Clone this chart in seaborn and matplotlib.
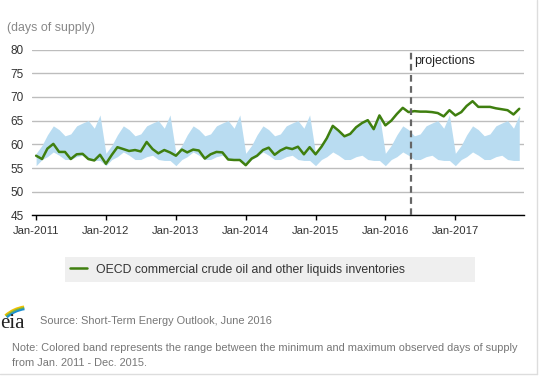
import numpy as np
import pandas as pd
import seaborn as sns
import matplotlib.pyplot as plt
from matplotlib.patches import Rectangle, Arc
from matplotlib.lines import Line2D
import matplotlib.dates as mdates

# monthly days of supply, Jan-2011 .. Dec-2017 (from Jun-2016 on: projections)
zaliha_2011 = [57.6, 56.9, 59.1, 60.1, 58.4, 58.4, 56.9, 57.9, 58.0, 56.9, 56.6, 57.8]
zaliha_2012 = [55.9, 57.8, 59.4, 59.0, 58.6, 58.8, 58.5, 60.5, 59.0, 58.1, 58.8, 58.3]
zaliha_2013 = [57.6, 58.9, 58.3, 58.9, 58.7, 57.0, 57.9, 58.4, 58.3, 56.8, 56.7, 56.7]
zaliha_2014 = [55.6, 57.0, 57.6, 58.8, 59.3, 57.8, 58.7, 59.3, 59.0, 59.5, 57.9, 59.4]
zaliha_2015 = [57.9, 59.5, 61.3, 63.9, 62.9, 61.7, 62.2, 63.6, 64.5, 65.1, 63.2, 66.1]
zaliha_2016 = [64.0, 65.0, 66.4, 67.7, 66.8, 67.0, 66.9, 66.9, 66.8, 66.6, 65.9, 67.2]
zaliha_2017 = [66.1, 66.8, 68.1, 69.1, 67.9, 67.9, 67.9, 67.6, 67.4, 67.2, 66.3, 67.5]

# range Jan 2011 - Dec 2015, per calendar month
raspon_max = [58.1, 59.8, 62.0, 63.9, 63.1, 61.8, 62.2, 63.9, 64.5, 65.0, 63.4, 66.2]
raspon_min = [55.5, 56.8, 57.4, 58.4, 57.7, 56.8, 56.8, 57.4, 57.7, 56.8, 56.6, 56.6]

godine = [2011, 2012, 2013, 2014, 2015, 2016, 2017]
oznaka_serije = 'OECD commercial crude oil and other liquids inventories'

datumi = pd.date_range('2011-01-01', '2017-12-01', freq='MS')
df = pd.DataFrame({
    'datum': datumi,
    'zaliha': zaliha_2011 + zaliha_2012 + zaliha_2013 + zaliha_2014
              + zaliha_2015 + zaliha_2016 + zaliha_2017,
    'band_max': raspon_max * len(godine),
    'band_min': raspon_min * len(godine),
})

sns.set_style('white')
plt.rcParams['font.family'] = ['Liberation Sans', 'DejaVu Sans']

fig = plt.figure(figsize=(5.47, 3.78), dpi=100)
ax = fig.add_axes([0.058, 0.430, 0.900, 0.439])

ax.fill_between(df['datum'], df['band_min'], df['band_max'],
                color='#b9dcf1', linewidth=0, zorder=1)

sns.lineplot(data=df, x='datum', y='zaliha', color='#3f7f0f',
             linewidth=1.8, label=oznaka_serije, ax=ax, zorder=3)

# projections divider
ax.axvline(pd.Timestamp('2016-05-16'), color='#666666', linestyle=(0, (3, 2)),
           linewidth=1.6, zorder=4)
ax.text(pd.Timestamp('2016-06-01'), 77.5, 'projections', fontsize=9,
        color='#222222', va='center', ha='left')

ax.set_ylim(45, 80)
ax.set_yticks(range(45, 81, 5))
ax.set_xlim(pd.Timestamp('2010-12-09'), pd.Timestamp('2017-12-26'))
ax.xaxis.set_major_locator(mdates.YearLocator())
ax.xaxis.set_major_formatter(mdates.DateFormatter('%b-%Y'))

ax.grid(axis='y', color='#bdbdbd', linewidth=1)
ax.grid(axis='x', visible=False)
for s in ['top', 'right', 'left']:
    ax.spines[s].set_visible(False)
ax.spines['bottom'].set_color('#000000')
ax.spines['bottom'].set_linewidth(1)
ax.tick_params(axis='y', length=0, pad=5.5, labelsize=8.5, labelcolor='#333333')
ax.tick_params(axis='x', length=3.5, width=1, color='#000000', direction='out',
               pad=4, labelsize=8.1, labelcolor='#333333', bottom=True)
ax.set_xlabel('')
ax.set_ylabel('')

fig.text(7 / 547, 1 - 28 / 378, '(days of supply)', fontsize=8.9,
         color='#888888', va='center', ha='left')

# legend with grey band
fig.add_artist(Rectangle((65 / 547, 1 - 282 / 378), 410 / 547, 25 / 378,
                         transform=fig.transFigure, facecolor='#efefef',
                         edgecolor='none', zorder=0))
ax.legend(loc='center left', bbox_to_anchor=(70 / 547, 1 - 269.5 / 378),
          bbox_transform=fig.transFigure, frameon=False, fontsize=8.85,
          handlelength=1.4, handletextpad=0.7, borderpad=0, borderaxespad=0,
          labelcolor='#333333')

# eia logo
logo = fig.add_axes([0 / 547, 1 - 334 / 378, 30 / 547, 32 / 378])
logo.set_xlim(0, 30)
logo.set_ylim(0, 32)
logo.axis('off')
for r, c in [(38, '#f2c200'), (36.6, '#7cb342'), (35.2, '#1b8fd1')]:
    logo.add_patch(Arc((30, -10), 2 * r, 2 * r, theta1=99, theta2=131,
                       color=c, linewidth=1.4))
logo.text(0, 1.5, 'eia', fontsize=15, family='Liberation Serif',
          color='#222222', va='bottom', ha='left')

fig.text(40 / 547, 1 - 321 / 378, 'Source: Short-Term Energy Outlook, June 2016',
         fontsize=7.9, color='#777777', va='center', ha='left')
fig.text(12 / 547, 1 - 348 / 378,
         'Note: Colored band represents the range between the minimum and maximum observed days of supply',
         fontsize=7.9, color='#777777', va='center', ha='left')
fig.text(12 / 547, 1 - 363 / 378, 'from Jan. 2011 - Dec. 2015.',
         fontsize=7.9, color='#777777', va='center', ha='left')

# outer frame lines right and bottom
fig.add_artist(Line2D([536.5 / 547, 536.5 / 547], [1 - 373.5 / 378, 1],
                      transform=fig.transFigure, color='#dddddd', linewidth=1))
fig.add_artist(Line2D([0, 536.5 / 547], [1 - 373.5 / 378, 1 - 373.5 / 378],
                      transform=fig.transFigure, color='#dddddd', linewidth=1))

fig.savefig('out.png', dpi=100)
plt.close()
